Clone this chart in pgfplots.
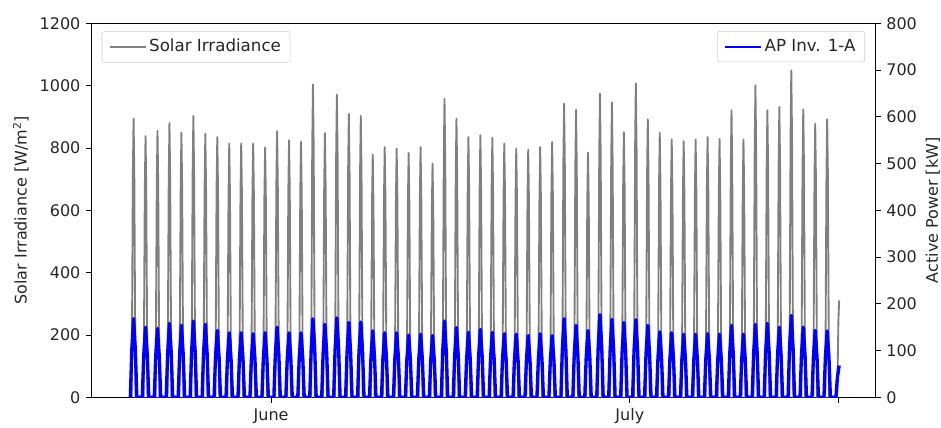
\documentclass[border=0pt]{standalone}
\usepackage{pgfplots}
\pgfplotsset{compat=1.18}
\usepackage{fontspec}
\setmainfont{DejaVu Sans}
\definecolor{irrgray}{RGB}{128,128,128}
\definecolor{apblue}{RGB}{0,0,255}
\definecolor{txt}{RGB}{38,38,38}
\pgfplotsset{
  common/.style={
    scale only axis, width=587.5pt, height=280.5pt,
    xmin=-15, xmax=50.5,
    tick align=outside, major tick length=4.3pt,
    tick style={black, line width=0.6pt},
    axis line style={black, line width=0.7pt},
    /pgf/number format/assume math mode=true,
    /pgf/number format/1000 sep={},
    tick label style={text=txt},
    label style={text=txt},
    legend cell align=left,
    legend image code/.code={\draw[##1, line width=1.4pt] (0pt,0pt) -- (27pt,0pt);},
  },
  leg/.style={legend style={draw=black!20, rounded corners=2pt, inner xsep=5pt, inner ysep=4pt,
    text=txt, font=\fontsize{12.5}{15}\selectfont,
    /tikz/column 2/.style={column sep=8pt}}},
}
\begin{document}
\fontsize{12}{14}\selectfont
\begin{tikzpicture}
\begin{axis}[common, name=ax1, leg,
  ymin=0, ymax=1200, ytick={0,200,...,1200}, ytick pos=left,
  xtick={0,30,47.45}, xticklabels={June,July,{}}, xtick pos=bottom,
  ylabel={Solar Irradiance [W/m\textsuperscript{2}]},
  legend style={at={(0,1)}, anchor=north west, xshift=7.5pt, yshift=-5.8pt},
]
\addplot[irrgray, line width=1.4pt, line join=round] coordinates {
(-11.66,0) (-11.56,715) (-11.5,894) (-11.44,715) (-11.34,0)
(-10.66,0) (-10.56,670) (-10.5,838) (-10.44,670) (-10.34,0)
(-9.66,0) (-9.56,684) (-9.5,855) (-9.44,684) (-9.34,0)
(-8.66,0) (-8.56,704) (-8.5,880) (-8.44,704) (-8.34,0)
(-7.66,0) (-7.56,679) (-7.5,849) (-7.44,679) (-7.34,0)
(-6.66,0) (-6.56,722) (-6.5,903) (-6.44,722) (-6.34,0)
(-5.66,0) (-5.56,677) (-5.5,846) (-5.44,677) (-5.34,0)
(-4.66,0) (-4.56,668) (-4.5,835) (-4.44,668) (-4.34,0)
(-3.66,0) (-3.56,651) (-3.5,814) (-3.44,651) (-3.34,0)
(-2.66,0) (-2.56,651) (-2.5,814) (-2.44,651) (-2.34,0)
(-1.66,0) (-1.56,651) (-1.5,814) (-1.44,651) (-1.34,0)
(-0.66,0) (-0.56,642) (-0.5,802) (-0.44,642) (-0.34,0)
(0.34,0) (0.44,683) (0.5,854) (0.56,683) (0.66,0)
(1.34,0) (1.44,660) (1.5,825) (1.56,660) (1.66,0)
(2.34,0) (2.44,656) (2.5,820) (2.56,656) (2.66,0)
(3.34,0) (3.44,803) (3.5,1004) (3.56,803) (3.66,0)
(4.34,0) (4.44,678) (4.5,848) (4.56,678) (4.66,0)
(5.34,0) (5.44,777) (5.5,971) (5.56,777) (5.66,0)
(6.34,0) (6.44,727) (6.5,909) (6.56,727) (6.66,0)
(7.34,0) (7.44,722) (7.5,903) (7.56,722) (7.66,0)
(8.34,0) (8.44,623) (8.5,779) (8.56,623) (8.66,0)
(9.34,0) (9.44,642) (9.5,803) (9.56,642) (9.66,0)
(10.34,0) (10.44,638) (10.5,798) (10.56,638) (10.66,0)
(11.34,0) (11.44,627) (11.5,784) (11.56,627) (11.66,0)
(12.34,0) (12.44,642) (12.5,803) (12.56,642) (12.66,0)
(13.34,0) (13.44,600) (13.5,750) (13.56,600) (13.66,0)
(14.34,0) (14.44,766) (14.5,958) (14.56,766) (14.66,0)
(15.34,0) (15.44,715) (15.5,894) (15.56,715) (15.66,0)
(16.34,0) (16.44,668) (16.5,835) (16.56,668) (16.66,0)
(17.34,0) (17.44,673) (17.5,841) (17.56,673) (17.66,0)
(18.34,0) (18.44,666) (18.5,833) (18.56,666) (18.66,0)
(19.34,0) (19.44,651) (19.5,814) (19.56,651) (19.66,0)
(20.34,0) (20.44,638) (20.5,798) (20.56,638) (20.66,0)
(21.34,0) (21.44,636) (21.5,795) (21.56,636) (21.66,0)
(22.34,0) (22.44,642) (22.5,803) (22.56,642) (22.66,0)
(23.34,0) (23.44,655) (23.5,819) (23.56,655) (23.66,0)
(24.34,0) (24.44,754) (24.5,942) (24.56,754) (24.66,0)
(25.34,0) (25.44,738) (25.5,923) (25.56,738) (25.66,0)
(26.34,0) (26.44,628) (26.5,785) (26.56,628) (26.66,0)
(27.34,0) (27.44,780) (27.5,975) (27.56,780) (27.66,0)
(28.34,0) (28.44,757) (28.5,946) (28.56,757) (28.66,0)
(29.34,0) (29.44,681) (29.5,851) (29.56,681) (29.66,0)
(30.34,0) (30.44,806) (30.5,1007) (30.56,806) (30.66,0)
(31.34,0) (31.44,714) (31.5,892) (31.56,714) (31.66,0)
(32.34,0) (32.44,679) (32.5,849) (32.56,679) (32.66,0)
(33.34,0) (33.44,662) (33.5,828) (33.56,662) (33.66,0)
(34.34,0) (34.44,658) (34.5,822) (34.56,658) (34.66,0)
(35.34,0) (35.44,662) (35.5,827) (35.56,662) (35.66,0)
(36.34,0) (36.44,668) (36.5,835) (36.56,668) (36.66,0)
(37.34,0) (37.44,663) (37.5,829) (37.56,663) (37.66,0)
(38.34,0) (38.44,737) (38.5,921) (38.56,737) (38.66,0)
(39.34,0) (39.44,662) (39.5,827) (39.56,662) (39.66,0)
(40.34,0) (40.44,801) (40.5,1001) (40.56,801) (40.66,0)
(41.34,0) (41.44,737) (41.5,921) (41.56,737) (41.66,0)
(42.34,0) (42.44,746) (42.5,932) (42.56,746) (42.66,0)
(43.34,0) (43.44,839) (43.5,1049) (43.56,839) (43.66,0)
(44.34,0) (44.44,739) (44.5,924) (44.56,739) (44.66,0)
(45.34,0) (45.44,702) (45.5,878) (45.56,702) (45.66,0)
(46.34,0) (46.44,714) (46.5,892) (46.56,714) (46.66,0)
(47.34,0) (47.44,249) (47.5,311)
};
\addlegendentry{Solar Irradiance}
\end{axis}
\begin{axis}[common, name=ax2, leg,
  hide x axis, axis y line*=right,
  ymin=0, ymax=800, ytick={0,100,...,800},
  ylabel={Active Power [kW]},
  ylabel style={at={(rel axis cs:1,0.5)}, anchor=center, yshift=-43.3pt},
  legend style={at={(1,1)}, anchor=north east, xshift=-7.5pt, yshift=-5.8pt},
]
\addplot[apblue, line width=2.5pt, line join=round] coordinates {
(-11.77,0) (-11.65,101) (-11.5,168) (-11.35,101) (-11.23,0)
(-10.77,0) (-10.65,90) (-10.5,150) (-10.35,90) (-10.23,0)
(-9.77,0) (-9.65,88) (-9.5,147) (-9.35,88) (-9.23,0)
(-8.77,0) (-8.65,95) (-8.5,158) (-8.35,95) (-8.23,0)
(-7.77,0) (-7.65,92) (-7.5,154) (-7.35,92) (-7.23,0)
(-6.77,0) (-6.65,98) (-6.5,163) (-6.35,98) (-6.23,0)
(-5.77,0) (-5.65,94) (-5.5,156) (-5.35,94) (-5.23,0)
(-4.77,0) (-4.65,86) (-4.5,143) (-4.35,86) (-4.23,0)
(-3.77,0) (-3.65,83) (-3.5,138) (-3.35,83) (-3.23,0)
(-2.77,0) (-2.65,83) (-2.5,138) (-2.35,83) (-2.23,0)
(-1.77,0) (-1.65,82) (-1.5,136) (-1.35,82) (-1.23,0)
(-0.77,0) (-0.65,83) (-0.5,138) (-0.35,83) (-0.23,0)
(0.23,0) (0.35,90) (0.5,150) (0.65,90) (0.77,0)
(1.23,0) (1.35,83) (1.5,138) (1.65,83) (1.77,0)
(2.23,0) (2.35,83) (2.5,138) (2.65,83) (2.77,0)
(3.23,0) (3.35,101) (3.5,168) (3.65,101) (3.77,0)
(4.23,0) (4.35,94) (4.5,156) (4.65,94) (4.77,0)
(5.23,0) (5.35,102) (5.5,170) (5.65,102) (5.77,0)
(6.23,0) (6.35,96) (6.5,160) (6.65,96) (6.77,0)
(7.23,0) (7.35,97) (7.5,161) (7.65,97) (7.77,0)
(8.23,0) (8.35,85) (8.5,142) (8.65,85) (8.77,0)
(9.23,0) (9.35,83) (9.5,138) (9.65,83) (9.77,0)
(10.23,0) (10.35,83) (10.5,138) (10.65,83) (10.77,0)
(11.23,0) (11.35,80) (11.5,133) (11.65,80) (11.77,0)
(12.23,0) (12.35,81) (12.5,135) (12.65,81) (12.77,0)
(13.23,0) (13.35,79) (13.5,132) (13.65,79) (13.77,0)
(14.23,0) (14.35,98) (14.5,163) (14.65,98) (14.77,0)
(15.23,0) (15.35,89) (15.5,149) (15.65,89) (15.77,0)
(16.23,0) (16.35,83) (16.5,139) (16.65,83) (16.77,0)
(17.23,0) (17.35,87) (17.5,145) (17.65,87) (17.77,0)
(18.23,0) (18.35,83) (18.5,139) (18.65,83) (18.77,0)
(19.23,0) (19.35,82) (19.5,136) (19.65,82) (19.77,0)
(20.23,0) (20.35,81) (20.5,135) (20.65,81) (20.77,0)
(21.23,0) (21.35,79) (21.5,132) (21.65,79) (21.77,0)
(22.23,0) (22.35,82) (22.5,136) (22.65,82) (22.77,0)
(23.23,0) (23.35,79) (23.5,132) (23.65,79) (23.77,0)
(24.23,0) (24.35,101) (24.5,168) (24.65,101) (24.77,0)
(25.23,0) (25.35,92) (25.5,154) (25.65,92) (25.77,0)
(26.23,0) (26.35,86) (26.5,143) (26.65,86) (26.77,0)
(27.23,0) (27.35,106) (27.5,177) (27.65,106) (27.77,0)
(28.23,0) (28.35,100) (28.5,167) (28.65,100) (28.77,0)
(29.23,0) (29.35,96) (29.5,160) (29.65,96) (29.77,0)
(30.23,0) (30.35,100) (30.5,166) (30.65,100) (30.77,0)
(31.23,0) (31.35,92) (31.5,154) (31.65,92) (31.77,0)
(32.23,0) (32.35,84) (32.5,140) (32.65,84) (32.77,0)
(33.23,0) (33.35,83) (33.5,138) (33.65,83) (33.77,0)
(34.23,0) (34.35,81) (34.5,135) (34.65,81) (34.77,0)
(35.23,0) (35.35,81) (35.5,135) (35.65,81) (35.77,0)
(36.23,0) (36.35,82) (36.5,136) (36.65,82) (36.77,0)
(37.23,0) (37.35,81) (37.5,135) (37.65,81) (37.77,0)
(38.23,0) (38.35,92) (38.5,154) (38.65,92) (38.77,0)
(39.23,0) (39.35,81) (39.5,135) (39.65,81) (39.77,0)
(40.23,0) (40.35,94) (40.5,156) (40.65,94) (40.77,0)
(41.23,0) (41.35,95) (41.5,158) (41.65,95) (41.77,0)
(42.23,0) (42.35,90) (42.5,150) (42.65,90) (42.77,0)
(43.23,0) (43.35,105) (43.5,175) (43.65,105) (43.77,0)
(44.23,0) (44.35,90) (44.5,150) (44.65,90) (44.77,0)
(45.23,0) (45.35,86) (45.5,143) (45.65,86) (45.77,0)
(46.23,0) (46.35,85) (46.5,142) (46.65,85) (46.77,0)
(47.23,0) (47.35,41) (47.5,68)
};
\addlegendentry{AP Inv. 1-A}
\end{axis}
\pgfresetboundingbox
\path[use as bounding box] ([shift={(-68.8pt,-23pt)}]ax1.south west) rectangle ([shift={(49.5pt,17.5pt)}]ax1.north east);
\end{tikzpicture}
\end{document}
